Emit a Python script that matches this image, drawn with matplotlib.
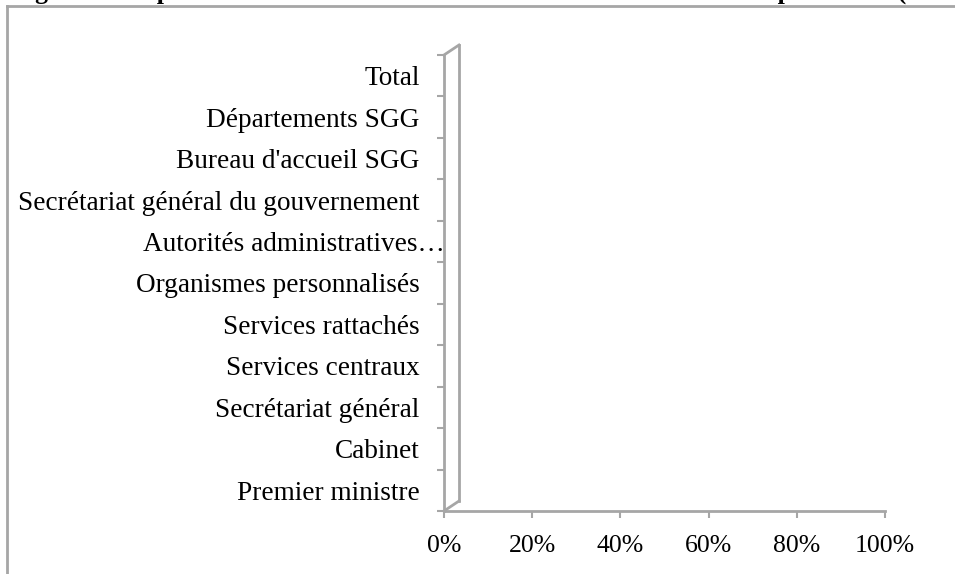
import matplotlib
matplotlib.use('Agg')
import matplotlib.pyplot as plt
import matplotlib.transforms as mtransforms

# categories, bottom to top as in the chart
categories = ['Premier ministre', 'Cabinet', 'Secrétariat général',
              'Services centraux', 'Services rattachés',
              'Organismes personnalisés', 'Autorités administratives…',
              'Secrétariat général du gouvernement', "Bureau d'accueil SGG",
              'Départements SGG', 'Total']
# share of women per entity (no bars visible in the chart)
femmes = [0, 0, 0, 0, 0, 0, 0, 0, 0, 0, 0]
x_ticks = [0, 0.2, 0.4, 0.6, 0.8, 1.0]
x_labels = ['0%', '20%', '40%', '60%', '80%', '100%']
title = 'Figure 1 : Représentation des femmes aux fonctions nominatives à la primature (en %)'

plt.rcParams['font.family'] = ['Liberation Serif', 'DejaVu Serif']
grey = '#a6a6a6'

W, H = 955, 574
fig = plt.figure(figsize=(W / 100, H / 100), dpi=100)

# axes in pixel coordinates of the reference
left, right, top, bottom = 444, 885, 55, 511
ax = fig.add_axes([left / W, 1 - bottom / H, (right - left) / W, (bottom - top) / H])

ypos = list(range(len(categories)))
ax.barh(ypos, femmes, height=0.6, color='#4f81bd')
ax.set_xlim(0, 1)
ax.set_ylim(-0.5, len(categories) - 0.5)

ax.set_xticks(x_ticks)
ax.set_xticklabels(x_labels, fontsize=18.5)
ax.set_yticks(ypos)
ax.set_yticklabels(categories, fontsize=19.6)
ax.set_yticks([i - 0.5 for i in range(len(categories) + 1)], minor=True)
ax.tick_params(axis='y', which='major', length=0, pad=17.5)
ax.tick_params(axis='y', which='minor', length=5, width=1.5, color=grey)
ax.tick_params(axis='x', length=5, width=1.5, color=grey, pad=12)

for s in ['top', 'right']:
    ax.spines[s].set_visible(False)
for s in ['left', 'bottom']:
    ax.spines[s].set_color(grey)
    ax.spines[s].set_linewidth(2)

# the long label overflows towards the axis
for lab in ax.get_yticklabels():
    if lab.get_text().startswith('Autorités'):
        lab.set_transform(lab.get_transform() + mtransforms.ScaledTranslation(25 / 100, 0, fig.dpi_scale_trans))

# 3d side wall, 15 px deep, 10 px up
off = ax.transAxes + mtransforms.ScaledTranslation(15 / 100, 10 / 100, fig.dpi_scale_trans)
ax.plot([0, 0], [0, 1], transform=off, color=grey, lw=2, clip_on=False)
for yy in [0, 1]:
    p0 = ax.transAxes.transform((0, yy))
    p1 = off.transform((0, yy))
    fig.add_artist(plt.Line2D([p0[0] / W, p1[0] / W], [p0[1] / H, p1[1] / H],
                              color=grey, lw=2, transform=fig.transFigure))

# chart area border (only top and left are inside the picture)
fig.add_artist(plt.Line2D([7 / W, 1], [1 - 6 / H, 1 - 6 / H], color=grey, lw=2))
fig.add_artist(plt.Line2D([7 / W, 7 / W], [0, 1 - 6 / H], color=grey, lw=2))

# title, cut by the top edge
fig.text(12 / W, 1 + 1 / H, title, fontsize=18.7, fontweight='bold', va='baseline', ha='left')

fig.savefig('out.png', dpi=100)
